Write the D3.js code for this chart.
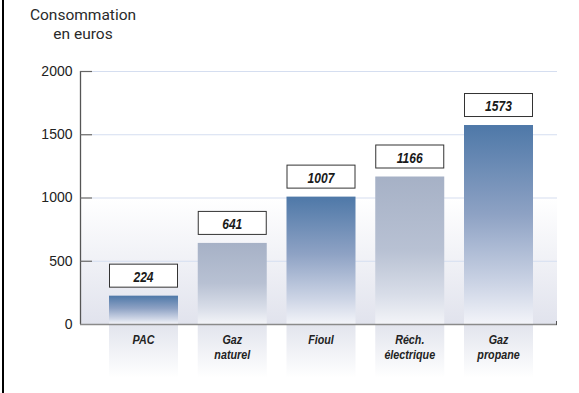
<!DOCTYPE html>
<html><head><meta charset="utf-8">
<script src="https://cdn.jsdelivr.net/npm/d3@7"></script>
<style>
html,body{margin:0;padding:0;background:#fff;}
svg{display:block;}
</style></head>
<body>
<svg id="chart" width="579" height="393"></svg>
<script>
const categories = ["PAC", "Gaz\nnaturel", "Fioul", "Réch.\nélectrique", "Gaz\npropane"];
const values = [224, 641, 1007, 1166, 1573];
const barStyle = ["dark", "gray", "dark", "gray", "dark"];
const yTicks = [0, 500, 1000, 1500, 2000];
const titleLines = ["Consommation", "en euros"];

const svg = d3.select("#chart");
const W = 579, H = 393;
const x0 = 80, x1 = 557, yTop = 71, yBase = 324;

const y = d3.scaleLinear().domain([0, 2000]).range([yBase, yTop]);
const step = 88.75, bw = 69;
const x = d3.scaleBand().domain(d3.range(categories.length))
  .range([109 - (step - bw) / 2, 533 + (step - bw) / 2])
  .paddingInner(1 - bw / step).paddingOuter((1 - bw / step) / 2);

const defs = svg.append("defs");
function grad(id, stops) {
  const g = defs.append("linearGradient").attr("id", id)
    .attr("x1", 0).attr("y1", 0).attr("x2", 0).attr("y2", 1);
  stops.forEach(s => g.append("stop").attr("offset", s[0]).attr("stop-color", s[1]));
}
grad("gDark", [[0, "#4e78a8"], [0.45, "#8ea2c4"], [0.8, "#ccd4e5"], [1, "#f3f4f9"]]);
grad("gGray", [[0, "#a6b1c6"], [0.5, "#b8c1d3"], [0.8, "#d8dde8"], [1, "#f3f4f8"]]);
grad("gBg", [[0, "#ffffff"], [1, "#e1e3ed"]]);
grad("gBand", [[0, "#e2e4ed"], [1, "#ffffff"]]);

// left border
svg.append("rect").attr("x", 2).attr("y", 0).attr("width", 2).attr("height", H).attr("fill", "#000");

// title
const tFont = "Roboto, 'Noto Sans', sans-serif";
svg.append("g").selectAll("text").data(titleLines).join("text")
  .attr("x", 83).attr("y", (d, i) => 20 + i * 19).attr("text-anchor", "middle")
  .attr("font-family", tFont).attr("font-size", 15.5).attr("fill", "#2a2a2a").text(d => d);

// plot background gradient
svg.append("rect").attr("x", x0).attr("y", y(1000)).attr("width", x1 - x0).attr("height", yBase - y(1000))
  .attr("fill", "url(#gBg)");

// gridlines
svg.append("g").selectAll("line").data(yTicks.filter(d => d > 0)).join("line")
  .attr("x1", x0 + 12).attr("x2", x1).attr("y1", d => y(d) + 0.5).attr("y2", d => y(d) + 0.5)
  .attr("stroke", "#d5def0").attr("stroke-width", 1.2);

// y axis
const yAxis = d3.axisLeft(y).tickValues(yTicks).tickFormat(d3.format("d")).tickSize(0).tickPadding(8);
const ga = svg.append("g").attr("transform", `translate(${x0 + 0.5},0)`).call(yAxis);
ga.select(".domain").remove();
ga.selectAll("text").attr("font-family", "'Liberation Sans', Arial, sans-serif").attr("font-size", 14).attr("fill", "#222");
svg.append("line").attr("x1", x0 + 0.5).attr("x2", x0 + 0.5).attr("y1", yTop).attr("y2", yBase).attr("stroke", "#555").attr("stroke-width", 1.3);
svg.append("g").selectAll("line").data(yTicks.filter(d => d > 0)).join("line")
  .attr("x1", x0).attr("x2", x0 + 12).attr("y1", d => y(d) + 0.5).attr("y2", d => y(d) + 0.5)
  .attr("stroke", "#666").attr("stroke-width", 1.2);

// bands below axis
svg.append("g").selectAll("rect").data(values).join("rect")
  .attr("x", (d, i) => x(i)).attr("width", x.bandwidth())
  .attr("y", yBase).attr("height", 54).attr("fill", "url(#gBand)");

// bars
svg.append("g").selectAll("rect").data(values).join("rect")
  .attr("x", (d, i) => x(i)).attr("width", x.bandwidth())
  .attr("y", d => y(d)).attr("height", d => yBase - y(d))
  .attr("fill", (d, i) => barStyle[i] === "dark" ? "url(#gDark)" : "url(#gGray)");

// x axis line
svg.append("line").attr("x1", x0).attr("x2", x1).attr("y1", yBase + 0.5).attr("y2", yBase + 0.5)
  .attr("stroke", "#8a8a8a").attr("stroke-width", 1.5);
svg.append("line").attr("x1", x1 - 0.5).attr("x2", x1 - 0.5).attr("y1", yBase - 3).attr("y2", yBase + 1)
  .attr("stroke", "#555").attr("stroke-width", 1);

// value boxes
const lblFont = "'Liberation Sans', Arial, sans-serif";
const boxes = svg.append("g").selectAll("g").data(values).join("g");
boxes.append("rect")
  .attr("x", (d, i) => x(i) + 0.5).attr("width", x.bandwidth() - 1)
  .attr("y", d => y(d) - 8 - 24 + 0.5).attr("height", 23)
  .attr("fill", "#fff").attr("stroke", "#333").attr("stroke-width", 1);
boxes.append("text")
  .attr("transform", (d, i) => `translate(${x(i) + x.bandwidth() / 2},${y(d) - 8 - 6}) scale(0.86,1)`)
  .attr("text-anchor", "middle").attr("font-family", lblFont).attr("font-style", "italic")
  .attr("font-weight", "bold").attr("font-size", 14).attr("fill", "#1a1a1a").text(d => d);

// category labels (one text per line)
const catLines = [];
categories.forEach((c, i) => c.split("\n").forEach((l, j) => catLines.push({ i, j, l })));
svg.append("g").selectAll("text").data(catLines).join("text")
  .attr("transform", d => `translate(${x(d.i) + x.bandwidth() / 2},${344 + d.j * 14.5}) scale(0.86,1)`)
  .attr("text-anchor", "middle").attr("font-family", lblFont).attr("font-style", "italic")
  .attr("font-weight", "bold").attr("font-size", 12.5).attr("fill", "#222").text(d => d.l);
</script>
</body></html>
